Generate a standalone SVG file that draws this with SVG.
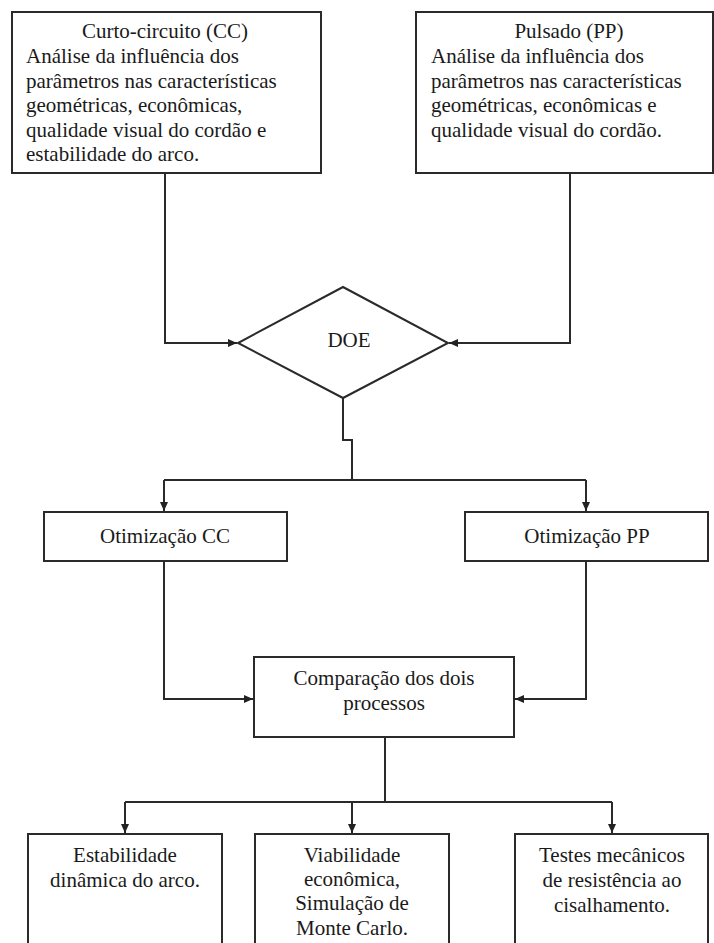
<svg xmlns="http://www.w3.org/2000/svg" width="714" height="943" viewBox="0 0 714 943">
<defs>
<marker id="arr" markerWidth="10" markerHeight="10" refX="9" refY="5" orient="auto" markerUnits="userSpaceOnUse">
<path d="M0,1 L9,5 L0,9 Z" fill="#222"/>
</marker>
<style>
.box{fill:#fff;stroke:#2a2a2a;stroke-width:2}
.t{font-family:'Liberation Serif','Times New Roman',serif;font-size:21px;fill:#1a1a1a}
.c{text-anchor:middle}
.ln{fill:none;stroke:#2a2a2a;stroke-width:2}
</style>
</defs>
<rect width="714" height="943" fill="#fff"/>
<g id="connectors">
<path class="ln" d="M165,173 V343 H237" marker-end="url(#arr)"/>
<path class="ln" d="M570,173 V343 H449" marker-end="url(#arr)"/>
<path class="ln" d="M343,398 V440 H352 V480"/>
<path class="ln" d="M164,480 H586"/>
<path class="ln" d="M164,480 V511" marker-end="url(#arr)"/>
<path class="ln" d="M586,480 V511" marker-end="url(#arr)"/>
<path class="ln" d="M164,561 V699 H253" marker-end="url(#arr)"/>
<path class="ln" d="M586,561 V699 H515" marker-end="url(#arr)"/>
<path class="ln" d="M385,737 V802"/>
<path class="ln" d="M125,802 H612"/>
<path class="ln" d="M125,802 V833" marker-end="url(#arr)"/>
<path class="ln" d="M352,802 V833" marker-end="url(#arr)"/>
<path class="ln" d="M612,802 V833" marker-end="url(#arr)"/>
</g>
<g id="cc">
<rect class="box" x="12" y="12" width="309" height="161"/>
<text class="t c" x="165" y="38">Curto-circuito (CC)</text>
<text class="t" x="26" y="63">Análise da influência dos</text>
<text class="t" x="26" y="88">parâmetros nas características</text>
<text class="t" x="26" y="112">geométricas, econômicas,</text>
<text class="t" x="26" y="137">qualidade visual do cordão e</text>
<text class="t" x="26" y="161">estabilidade do arco.</text>
</g>
<g id="pp">
<rect class="box" x="416" y="12" width="297" height="161"/>
<text class="t c" x="569" y="38">Pulsado (PP)</text>
<text class="t" x="431" y="63">Análise da influência dos</text>
<text class="t" x="431" y="88">parâmetros nas características</text>
<text class="t" x="431" y="112">geométricas, econômicas e</text>
<text class="t" x="431" y="137">qualidade visual do cordão.</text>
</g>
<g id="doe">
<path class="box" d="M343,287 L448,343 L343,398 L238,343 Z"/>
<text class="t c" x="349" y="347">DOE</text>
</g>
<g id="otcc">
<rect class="box" x="44" y="512" width="243" height="49"/>
<text class="t c" x="165" y="543">Otimização CC</text>
</g>
<g id="otpp">
<rect class="box" x="465" y="512" width="243" height="49"/>
<text class="t c" x="587" y="543">Otimização PP</text>
</g>
<g id="comp">
<rect class="box" x="254" y="657" width="260" height="80"/>
<text class="t c" x="384" y="685">Comparação dos dois</text>
<text class="t c" x="384" y="710">processos</text>
</g>
<g id="estab">
<rect class="box" x="28" y="834" width="194" height="130"/>
<text class="t c" x="125" y="862">Estabilidade</text>
<text class="t c" x="125" y="887">dinâmica do arco.</text>
</g>
<g id="viab">
<rect class="box" x="255" y="834" width="194" height="130"/>
<text class="t c" x="352" y="862">Viabilidade</text>
<text class="t c" x="352" y="886">econômica,</text>
<text class="t c" x="352" y="910">Simulação de</text>
<text class="t c" x="352" y="935">Monte Carlo.</text>
</g>
<g id="testes">
<rect class="box" x="515" y="834" width="193" height="130"/>
<text class="t c" x="612" y="862">Testes mecânicos</text>
<text class="t c" x="612" y="887">de resistência ao</text>
<text class="t c" x="612" y="912">cisalhamento.</text>
</g>
</svg>
